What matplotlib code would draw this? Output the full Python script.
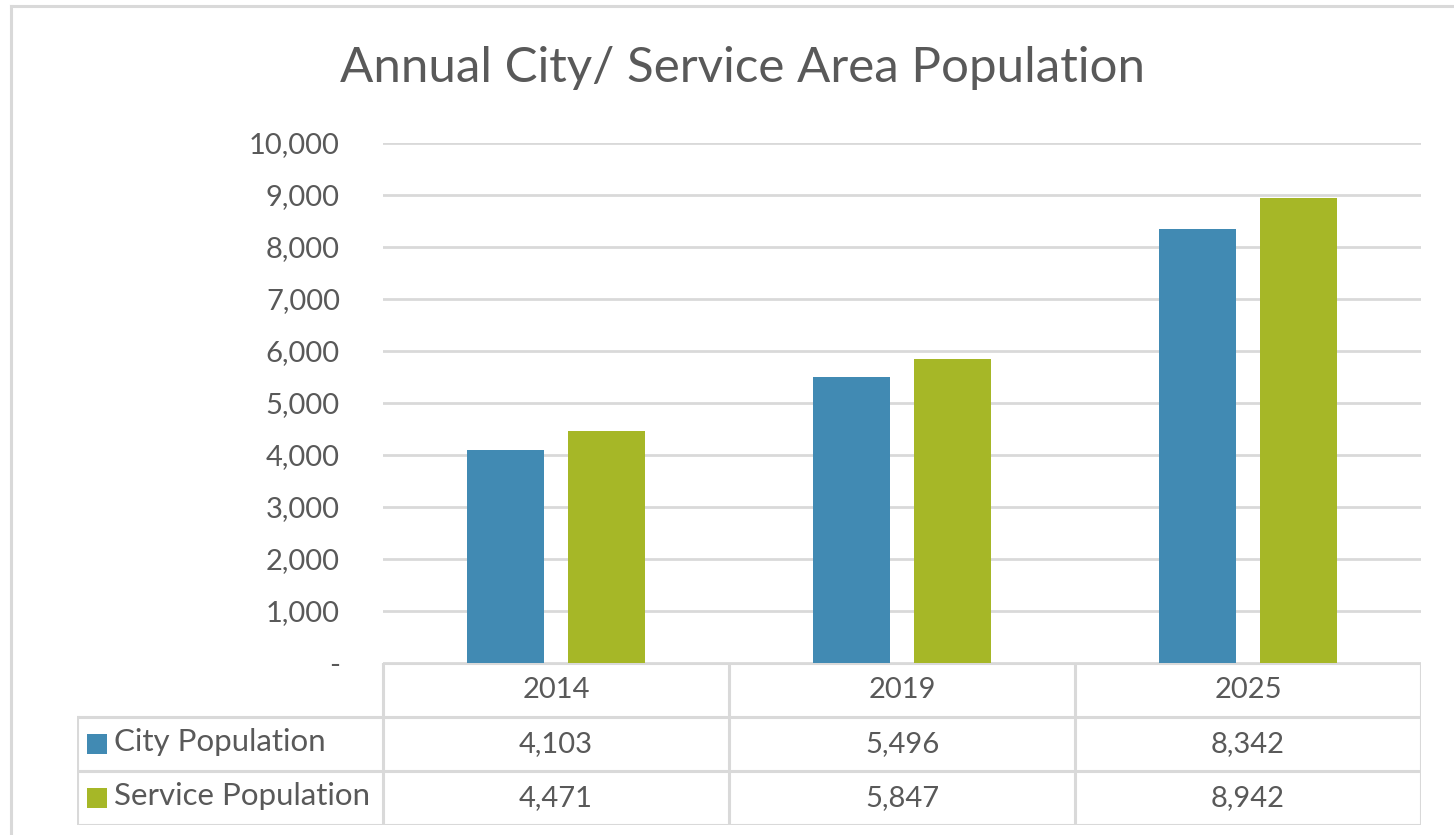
import matplotlib.pyplot as plt
from matplotlib.ticker import FuncFormatter

years = ["2014", "2019", "2025"]
city_pop = [4103, 5496, 8342]
service_pop = [4471, 5847, 8942]
series_names = ["City Population", "Service Population"]
colors = ["#418AB3", "#A6B727"]

W, H = 1454, 835
TEXT = "#595959"
GRID = "#D9D9D9"
FS = 21
plt.rcParams["font.family"] = ["Lato", "DejaVu Sans"]

fig = plt.figure(figsize=(W / 100, H / 100), dpi=100)


def box(x0, y0, x1, y1):
    # pixel box (top-left origin) -> figure fraction rect
    return [x0 / W, 1 - y1 / H, (x1 - x0) / W, (y1 - y0) / H]


# outer chart border (top/left only visible in crop)
fig.add_artist(plt.Line2D([11 / W, 11 / W], [0, 1 - 6 / H], color=GRID, lw=2.2))
fig.add_artist(plt.Line2D([11 / W, 1], [1 - 6 / H, 1 - 6 / H], color=GRID, lw=2.2))

fig.text(743 / W, 1 - 68 / H, "Annual City/ Service Area Population",
         ha="center", va="center", fontsize=35.5, color=TEXT)

# bars
ax = fig.add_axes(box(383, 143, 1421, 663))
x = range(len(years))
off, bw = 0.146, 0.222
ax.bar([i - off for i in x], city_pop, bw, color=colors[0], zorder=3)
ax.bar([i + off for i in x], service_pop, bw, color=colors[1], zorder=3)
ax.set_xlim(-0.5, 2.5)
ax.set_ylim(0, 10000)
ax.set_yticks(range(0, 10001, 1000))
ax.yaxis.set_major_formatter(FuncFormatter(lambda v, p: "-" if v == 0 else f"{v:,.0f}"))
ax.grid(axis="y", color=GRID, lw=2, zorder=0)
ax.set_xticks([])
ax.tick_params(axis="y", length=0, pad=31, labelsize=FS, labelcolor=TEXT)
for s in ax.spines.values():
    s.set_visible(False)

# data table
n = len(years)
leg_w = (383 - 77) / (1421 - 383) * n
tab = fig.add_axes(box(77, 663, 1421, 825))
tab.set_xlim(-0.5 - leg_w, n - 0.5)
tab.set_ylim(3, 0)
tab.axis("off")
lk = dict(color=GRID, lw=2.2, solid_capstyle="projecting")
tab.plot([-0.5, n - 0.5], [0, 0], **lk)
for r in (1, 2, 3):
    tab.plot([-0.5 - leg_w, n - 0.5], [r, r], **lk)
tab.plot([-0.5 - leg_w] * 2, [1, 3], **lk)
for c in range(n + 1):
    tab.plot([c - 0.5] * 2, [0, 3], **lk)

px = leg_w / (383 - 77)  # data units per pixel in table
for i, yr in enumerate(years):
    tab.text(i, 0.5, yr, ha="center", va="center", fontsize=FS, color=TEXT)
for r, vals in enumerate([city_pop, service_pop], start=1):
    for i, v in enumerate(vals):
        tab.text(i, r + 0.5, f"{v:,}", ha="center", va="center", fontsize=FS, color=TEXT)
    tab.scatter(-0.5 - leg_w + 20 * px, r + 0.5, marker="s", s=190, color=colors[r - 1], lw=0)
    tab.text(-0.5 - leg_w + 37 * px, r + 0.47, series_names[r - 1], ha="left", va="center",
             fontsize=22.5, color=TEXT)

fig.savefig("out.png", dpi=100)
